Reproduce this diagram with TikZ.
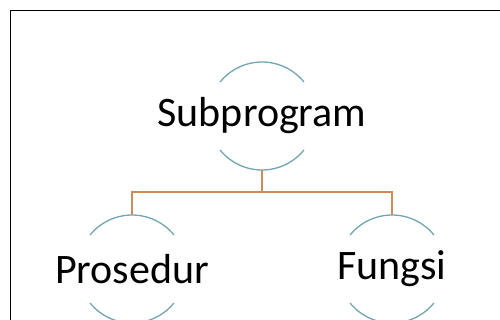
\documentclass[tikz,border=0pt]{standalone}
\usepackage{fontspec}
\setmainfont{Carlito}
\usetikzlibrary{calc}
\definecolor{arcblue}{RGB}{114,164,178}
\definecolor{linkorange}{RGB}{205,140,90}

\begin{document}
\begin{tikzpicture}[x=1pt, y=1pt,
  topic/.style={circle, minimum size=108pt, inner sep=0pt, outer sep=0pt,
    label={[font=\fontsize{42}{50}\selectfont, inner sep=0pt]center:#1}},
  rim/.style={draw=arcblue, line width=1.3pt},
  link/.style={draw=linkorange, line width=1.3pt}]
\useasboundingbox (0,0) rectangle (500,-320);
% frame
\draw[line width=1pt] (10.5,-320) -- (10.5,-11) -- (500,-11);
\node[topic=Subprogram] (sub) at (262,-116) {};
\node[topic=Prosedur]   (pro) at (132,-269) {};
\node[topic=Fungsi]     (fun) at (392,-269) {};
% arcs round each topic
\foreach \t in {sub,pro,fun}{
  \draw[rim] (\t.39) arc[start angle=39, end angle=141, radius=54];
  \draw[rim] (\t.219) arc[start angle=219, end angle=321, radius=54];
}
% tree
\coordinate (fork) at ($(sub.south)+(0,-22)$);
\draw[link] (sub.south) -- (fork);
\draw[link] (fork) -| (pro.north);
\draw[link] (fork) -| (fun.north);
\end{tikzpicture}
\end{document}
